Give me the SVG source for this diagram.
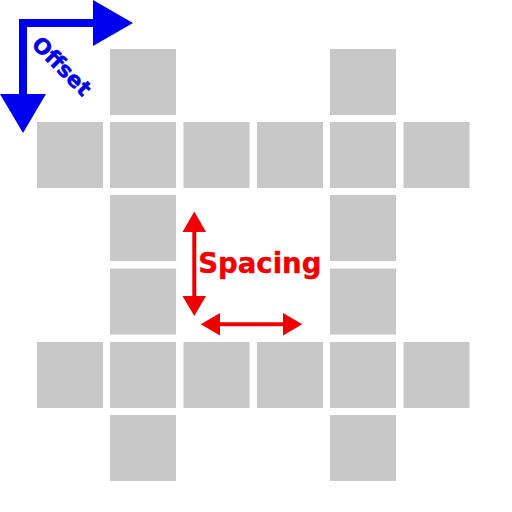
<svg xmlns="http://www.w3.org/2000/svg" width="512" height="512" viewBox="0 0 512 512">
<style>
.cell{fill:#c8c8c8}
.blue{fill:#0000ee}
.red{fill:#ee0000}
.lbl{font-family:"DejaVu Sans",sans-serif;font-weight:bold}
.tb{stroke:#0000ee;stroke-width:0.5}
.tr{stroke:#ee0000;stroke-width:0.4}
</style>
<rect width="512" height="512" fill="#fff"/>
<g id="grid">
<rect class="cell" x="110" y="49" width="66" height="66"/>
<rect class="cell" x="330" y="49" width="66" height="66"/>
<rect class="cell" x="37" y="122" width="66" height="66"/>
<rect class="cell" x="110" y="122" width="66" height="66"/>
<rect class="cell" x="183.5" y="122" width="66" height="66"/>
<rect class="cell" x="257" y="122" width="66" height="66"/>
<rect class="cell" x="330" y="122" width="66" height="66"/>
<rect class="cell" x="403.5" y="122" width="66" height="66"/>
<rect class="cell" x="110" y="195" width="66" height="66"/>
<rect class="cell" x="330" y="195" width="66" height="66"/>
<rect class="cell" x="110" y="268.5" width="66" height="66"/>
<rect class="cell" x="330" y="268.5" width="66" height="66"/>
<rect class="cell" x="37" y="342" width="66" height="66"/>
<rect class="cell" x="110" y="342" width="66" height="66"/>
<rect class="cell" x="183.5" y="342" width="66" height="66"/>
<rect class="cell" x="257" y="342" width="66" height="66"/>
<rect class="cell" x="330" y="342" width="66" height="66"/>
<rect class="cell" x="403.5" y="342" width="66" height="66"/>
<rect class="cell" x="110" y="415" width="66" height="66"/>
<rect class="cell" x="330" y="415" width="66" height="66"/>
</g>
<g id="offset">
<path d="M96,23 H23 V96" fill="none" stroke="#0000ee" stroke-width="8"/>
<polygon class="blue" points="93,0 133,23 93,46"/>
<polygon class="blue" points="0,94 46,94 23,133"/>
<text class="lbl blue tb" font-size="21.5" text-anchor="middle" transform="translate(62,66) rotate(45)" x="0" y="7.8">Offset</text>
</g>
<g id="spacing">
<line x1="194.3" y1="228" x2="194.3" y2="300" stroke="#ee0000" stroke-width="4"/>
<polygon class="red" points="194.3,211.5 182.5,232 206,232"/>
<polygon class="red" points="194.3,316 182.5,296 206,296"/>
<line x1="216" y1="324.3" x2="286" y2="324.3" stroke="#ee0000" stroke-width="4"/>
<polygon class="red" points="200.7,324.3 220,313 220,335.5"/>
<polygon class="red" points="302.3,324.3 283,313 283,335.5"/>
<text class="lbl red tr" font-size="27.5" x="198.3" y="272.5">Spacing</text>
</g>
</svg>
